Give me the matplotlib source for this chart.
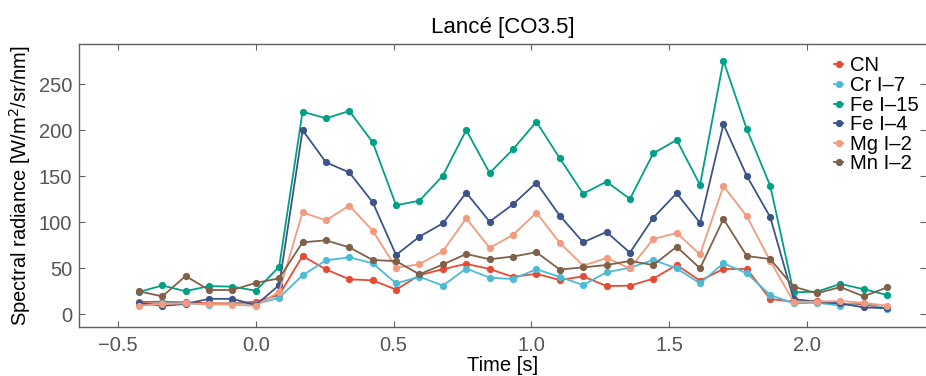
import numpy as np
import matplotlib
matplotlib.use("Agg")
import matplotlib.pyplot as plt

plt.rcParams['font.family'] = ['Liberation Sans', 'DejaVu Sans']

# ---- data ----
t0 = -0.425
dt = 0.0849
n_points = 33
time = t0 + dt * np.arange(n_points)

series_names = ["CN", "Cr I\u20137", "Fe I\u201315", "Fe I\u20134", "Mg I\u20132", "Mn I\u20132"]

cn = [13.4, 13.7, 13.0, 11.9, 11.9, 13.7, 21.0, 63.3, 48.8, 38.0, 36.9, 26.8, 42.5,
      49.0, 54.8, 49.2, 40.6, 44.0, 37.2, 41.2, 30.7, 31.1, 38.7, 53.5, 36.5, 49.2,
      49.2, 16.6, 13.7, 14.8, 10.8, 10.8, 6.5]
cr = [11.2, 11.9, 11.9, 10.5, 11.9, 11.2, 18.0, 42.3, 58.6, 61.9, 55.4, 33.6, 40.8,
      31.1, 49.7, 39.8, 38.3, 49.0, 40.6, 31.8, 45.6, 50.6, 59.0, 49.9, 33.6, 55.4,
      44.5, 21.0, 11.9, 12.6, 9.4, 12.6, 5.8]
fe15 = [24.3, 31.3, 25.1, 30.7, 30.0, 25.6, 51.7, 220.0, 212.8, 220.7, 186.7, 118.3,
        123.4, 150.5, 200.1, 153.4, 179.1, 209.1, 169.4, 131.0, 144.0, 125.2, 174.8,
        189.3, 140.4, 275.4, 200.9, 139.6, 23.9, 24.6, 33.0, 27.3, 21.0]
fe4 = [12.2, 9.2, 11.3, 16.8, 16.8, 9.9, 31.8, 200.0, 165.0, 154.0, 121.6, 64.4, 84.3,
       98.8, 132.0, 100.6, 119.4, 142.9, 107.1, 78.2, 89.4, 66.9, 104.9, 131.4, 99.2,
       206.3, 150.2, 105.6, 16.6, 13.5, 11.9, 7.5, 6.6]
mg = [9.4, 11.1, 11.9, 10.9, 10.3, 9.2, 24.6, 110.7, 102.0, 118.0, 90.8, 50.5, 54.4,
      68.5, 104.2, 72.2, 86.1, 110.3, 77.6, 52.8, 61.1, 49.9, 81.8, 88.3, 65.1, 139.3,
      106.4, 58.0, 13.7, 13.7, 14.4, 12.5, 9.4]
mn = [24.9, 19.5, 41.6, 26.4, 26.4, 34.2, 39.0, 78.2, 80.3, 72.7, 59.0, 57.7, 43.4,
      54.1, 65.5, 59.8, 62.7, 67.4, 48.6, 51.0, 53.5, 57.9, 53.5, 73.4, 49.9, 103.5,
      63.3, 60.0, 30.0, 22.8, 29.6, 19.5, 29.3]

all_series = [cn, cr, fe15, fe4, mg, mn]
colors = ["#E64B35", "#4DBBD5", "#00A087", "#3C5488", "#F39B7F", "#7E6148"]

x_ticks = [-0.5, 0.0, 0.5, 1.0, 1.5, 2.0]
y_ticks = [0, 50, 100, 150, 200, 250]

# ---- figure ----
fig = plt.figure(figsize=(9.26, 3.76), dpi=100)
ax = fig.add_axes([0.0856, 0.1295, 0.9144, 0.7543])

for name, vals, c in zip(series_names, all_series, colors):
    ax.plot(time, vals, color=c, lw=1.3, marker='o', ms=4.2, mec=c, mfc=c, label=name)

ax.set_xlim(-0.6415, 2.433)
ax.set_ylim(-14.1, 293.8)
ax.set_xticks(x_ticks)
ax.set_xticklabels([f"{v:.1f}".replace('-', '\u2212') for v in x_ticks])
ax.set_yticks(y_ticks)

spine_col = '#606060'
for s in ['left', 'bottom', 'top']:
    ax.spines[s].set_color(spine_col)
    ax.spines[s].set_linewidth(1.0)
ax.spines['right'].set_visible(False)

ax.tick_params(axis='both', direction='in', length=4, width=0.8, color=spine_col,
               labelsize=14.5, labelcolor='#555555', top=True, right=True)
ax.tick_params(axis='x', pad=6)
ax.tick_params(axis='y', pad=5)

ax.set_xlabel("Time [s]", fontsize=14.5, labelpad=1)
ax.set_ylabel("Spectral radiance [W/m$^2$/sr/nm]", fontsize=14.5, labelpad=4)
ax.set_title("Lanc\u00e9 [CO3.5]", fontsize=16, pad=8)

leg = ax.legend(loc='upper right', bbox_to_anchor=(0.992, 0.955), frameon=False,
                fontsize=14.6, handlelength=0.45, handletextpad=0.35, labelspacing=0.03,
                borderpad=0, borderaxespad=0, markerscale=1.0)

fig.savefig("out.png", dpi=100)
